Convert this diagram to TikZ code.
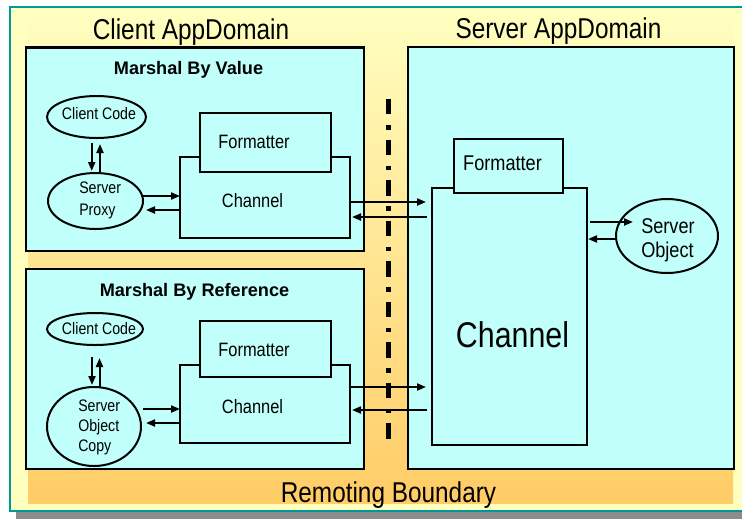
\documentclass[tikz,border=0pt]{standalone}
\usepackage{fontspec}
\setmainfont{Liberation Sans}[FakeStretch=0.85]
\newfontfamily\headfont{Liberation Sans}
\usetikzlibrary{shapes.geometric,arrows.meta,fit}

\definecolor{panel}{RGB}{192,255,250}
\definecolor{paleyellow}{RGB}{255,255,192}
\definecolor{boundaryorange}{RGB}{255,204,102}
\definecolor{frameteal}{RGB}{0,153,153}
\definecolor{shadowgray}{RGB}{140,140,140}

\tikzset{
  domainbox/.style={draw=black, line width=2pt, fill=panel, inner sep=0pt, outer sep=0pt},
  part/.style={draw=black, line width=1.5pt, fill=panel, inner sep=0pt, outer sep=0pt},
  obj/.style={part, ellipse},
  arr/.style={line width=1.5pt, -{Triangle[length=6.75pt,width=5.25pt]}},
  bigtext/.style={font=\fontsize{21.5}{24}\selectfont, inner sep=0pt},
  heading/.style={font=\headfont\bfseries\fontsize{13.6}{16}\selectfont, inner sep=0pt},
  smalltext/.style={font=\fontsize{12.5}{15}\selectfont, inner sep=0pt},
  partname/.style={font=\fontsize{14.5}{17}\selectfont, inner sep=0pt},
  srvname/.style={font=\fontsize{16}{18.4}\selectfont, inner sep=0pt},
}

\begin{document}
\begin{tikzpicture}[x=0.75pt, y=-0.75pt]
  \useasboundingbox (0,0) rectangle (742,519);
  \clip (0,0) rectangle (742,519);

  % slide frame and the boundary strip
  \fill[shadowgray] (16,512) rectangle (742,519);
  \draw[frameteal, line width=1.1pt, fill=paleyellow] (10,7) rectangle (760,511);
  \fill[top color=paleyellow, bottom color=boundaryorange] (28,9) rectangle (733,503);

  \node[bigtext, anchor=base] (client) at (191,39) {Client AppDomain};
  \node[bigtext, anchor=base] (server) at (558.5,38.5) {Server AppDomain};
  \node[bigtext, anchor=base] (boundary) at (388.5,502) {Remoting Boundary};

  \node[domainbox, fit={(26,47.5) (364,251)}] (mbv) {};
  \node[domainbox, fit={(26,269) (364,469)}] (mbr) {};
  \node[domainbox, fit={(408,47) (734,469)}] (srv) {};

  \node[heading, anchor=base] (mbvtitle) at (188.5,74) {Marshal By Value};
  \node[heading, anchor=base] (mbrtitle) at (194.5,296) {Marshal By Reference};

  \draw[line width=3.75pt, dash pattern=on 11.6pt off 8pt on 3.4pt off 7.4pt]
    (388.5,99) -- (388.5,439);

  % marshal by value
  \node[part, fit={(180,157) (350,238)}] (ch1) {};
  \node[part, fit={(200,113) (331,172)}] (fm1) {};
  \node[obj, minimum width=99*0.75pt, minimum height=42*0.75pt] (cc1) at (96.5,117) {};
  \node[obj, minimum width=95*0.75pt, minimum height=56*0.75pt] (sp1) at (95.5,201) {};
  \node[smalltext, anchor=base] (cc1text) at (99,119) {Client Code};
  \node[font=\fontsize{12.5}{16.5}\selectfont, inner sep=0pt, align=left, anchor=north west]
    (sp1text) at (79,181.5) {Server\\Proxy};
  \node[partname, anchor=base] (fm1text) at (254,148.7) {Formatter};
  \node[partname, anchor=base] (ch1text) at (252.5,207) {Channel};

  % marshal by reference
  \node[part, fit={(180,365) (350,443)}] (ch2) {};
  \node[part, fit={(200,321) (331,377)}] (fm2) {};
  \node[obj, minimum width=96*0.75pt, minimum height=32*0.75pt] (cc2) at (95,329) {};
  \node[obj, minimum width=94*0.75pt, minimum height=79*0.75pt] (sc2) at (94,426.5) {};
  \node[smalltext, anchor=base] (cc2text) at (99,334) {Client Code};
  \node[smalltext, align=left, anchor=north west] (sc2text) at (78,400) {Server\\Object\\Copy};
  \node[partname, anchor=base] (fm2text) at (254,356) {Formatter};
  \node[partname, anchor=base] (ch2text) at (252.5,413) {Channel};

  % server side
  \node[part, fit={(432,188) (587,445)}] (ch3) {};
  \node[part, fit={(454,139) (563,193)}] (fm3) {};
  \node[obj, minimum width=102*0.75pt, minimum height=74*0.75pt] (so) at (667,236) {};
  \node[srvname, anchor=base] (fm3text) at (502.5,170) {Formatter};
  \node[font=\fontsize{26.8}{30}\selectfont, inner sep=0pt, anchor=base] (ch3text) at (512.5,347) {Channel};
  \node[srvname, align=left, anchor=north west] (sotext) at (641,218) {Server\\Object};

  \draw[arr, shorten <=3.5pt, shorten >=1.5pt] (cc1.south -| 91.7,0) -- (sp1.north -| 91.7,0);
  \draw[arr, shorten >=4.5pt] (sp1.north -| 100,0) -- (cc1.south -| 100,0);
  \draw[arr] (sp1.east |- 0,196) -- (ch1.west |- 0,196);
  \draw[arr, shorten >=2.25pt] (ch1.west |- 0,210) -- (sp1.east |- 0,210);
  \draw[arr, shorten >=4.5pt] (ch1.east |- 0,202) -- (ch3.west |- 0,202);
  \draw[arr, shorten <=3.75pt, shorten >=1.5pt] (ch3.west |- 0,217) -- (ch1.east |- 0,217);

  \draw[arr, shorten <=9pt, shorten >=1.5pt] (cc2.south -| 92,0) -- (sc2.north -| 92,0);
  \draw[arr, shorten >=9.75pt] (sc2.north -| 99.5,0) -- (cc2.south -| 99.5,0);
  \draw[arr, shorten <=1.5pt] (sc2.east |- 0,409) -- (ch2.west |- 0,409);
  \draw[arr, shorten >=3.75pt] (ch2.west |- 0,423) -- (sc2.east |- 0,423);
  \draw[arr, shorten >=4.5pt] (ch2.east |- 0,387) -- (ch3.west |- 0,387);
  \draw[arr, shorten <=3.75pt, shorten >=1.5pt] (ch3.west |- 0,410) -- (ch2.east |- 0,410);

  \draw[arr, shorten <=2.25pt, shorten >=-12.75pt] (ch3.east |- 0,222) -- (so.west |- 0,222);
  \draw[arr, shorten >=0.75pt] (so.west |- 0,239) -- (ch3.east |- 0,239);
\end{tikzpicture}
\end{document}
